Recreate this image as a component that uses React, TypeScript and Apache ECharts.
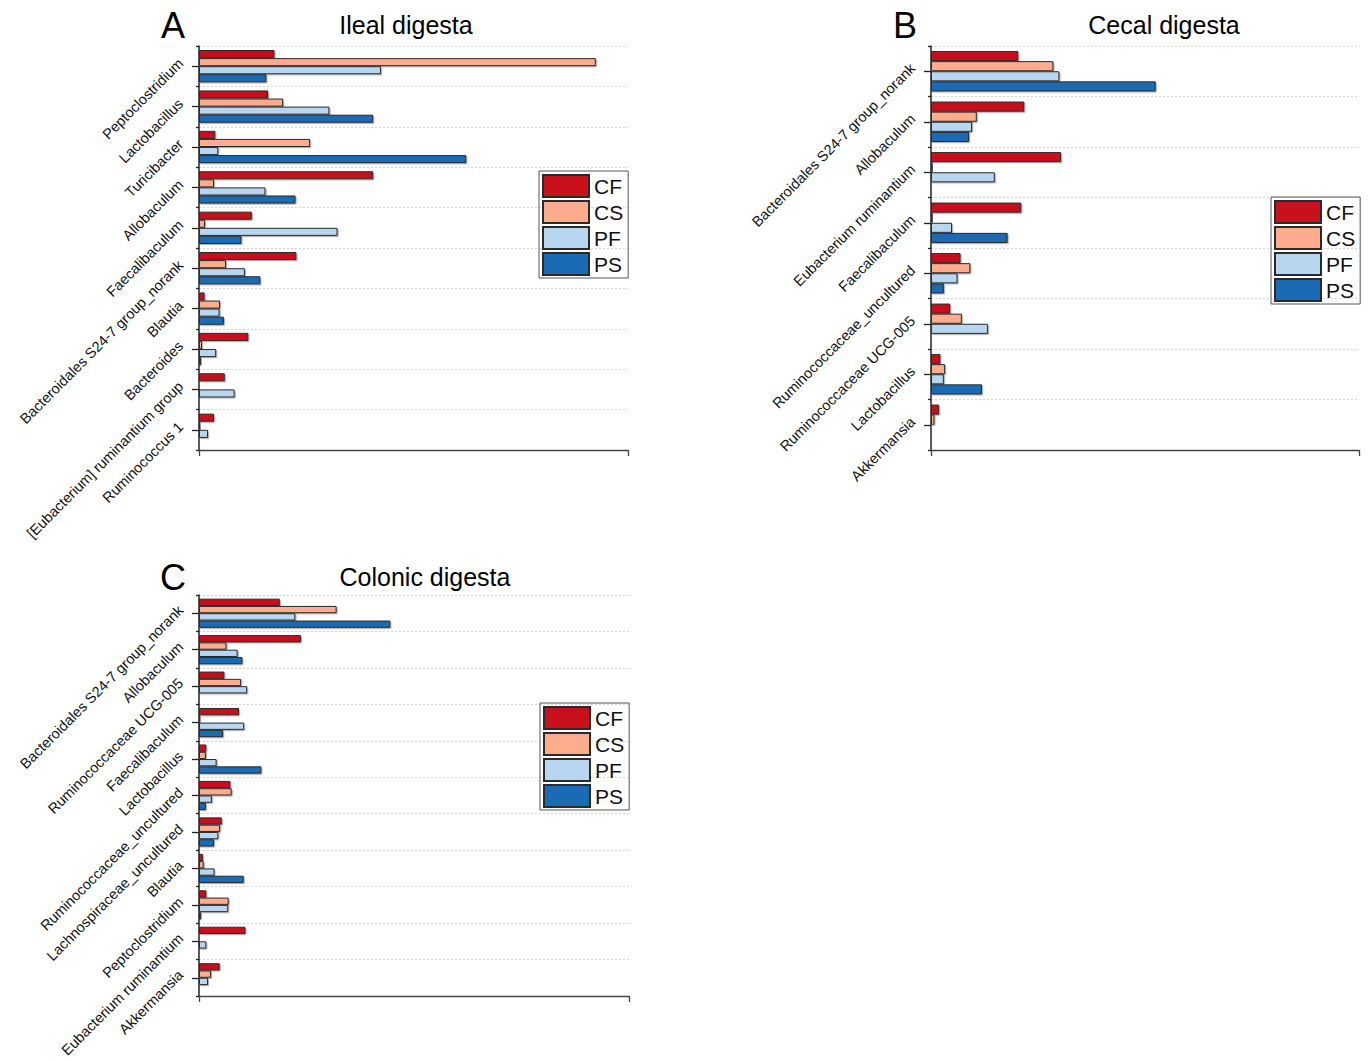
import React, { useEffect, useRef } from "react";
import * as echarts from "echarts";

const GROUPS = ["CF", "CS", "PF", "PS"];
const COLORS = ["#c8111b", "#fdac8e", "#b8d6ef", "#1a6bb4"];

// Panel A: Ileal digesta
const CATS_A = [
  "Peptoclostridium",
  "Lactobacillus",
  "Turicibacter",
  "Allobaculum",
  "Faecalibaculum",
  "Bacteroidales S24-7 group_norank",
  "Blautia",
  "Bacteroides",
  "[Eubacterium] ruminantium group",
  "Ruminococcus 1",
];
const A_CF = [17.6, 16.1, 3.8, 40.6, 12.3, 22.7, 1.3, 11.5, 6.0, 3.5];
const A_CS = [92.5, 19.6, 25.9, 3.5, 1.4, 6.3, 4.9, 0.7, 0, 0.3];
const A_PF = [42.4, 30.4, 4.5, 15.5, 32.3, 10.7, 4.8, 4.0, 8.3, 2.1];
const A_PS = [15.7, 40.6, 62.3, 22.5, 9.9, 14.3, 5.8, 0.5, 0, 0];

// Panel B: Cecal digesta
const CATS_B = [
  "Bacteroidales S24-7 group_norank",
  "Allobaculum",
  "Eubacterium ruminantium",
  "Faecalibaculum",
  "Ruminococcaceae_uncultured",
  "Ruminococcaceae UCG-005",
  "Lactobacillus",
  "Akkermansia",
];
const B_CF = [20.4, 21.8, 30.4, 21.1, 6.9, 4.5, 2.2, 1.9];
const B_CS = [28.6, 10.7, 0.4, 0.4, 9.2, 7.2, 3.3, 0.8];
const B_PF = [30.0, 9.6, 14.9, 4.9, 6.2, 13.3, 3.0, 0];
const B_PS = [52.5, 8.9, 0, 17.9, 3.0, 0, 11.9, 0];

// Panel C: Colonic digesta
const CATS_C = [
  "Bacteroidales S24-7 group_norank",
  "Allobaculum",
  "Ruminococcaceae UCG-005",
  "Faecalibaculum",
  "Lactobacillus",
  "Ruminococcaceae_uncultured",
  "Lachnospiraceae_uncultured",
  "Blautia",
  "Peptoclostridium",
  "Eubacterium ruminantium",
  "Akkermansia",
];
const C_CF = [18.8, 23.7, 5.9, 9.3, 1.7, 7.3, 5.3, 0.9, 1.7, 10.8, 4.8];
const C_CS = [32.0, 6.4, 9.8, 0.3, 1.6, 7.6, 4.9, 1.1, 6.9, 0, 2.8];
const C_PF = [22.4, 9.0, 11.2, 10.5, 4.1, 3.0, 4.5, 3.6, 6.8, 1.7, 2.1];
const C_PS = [44.5, 10.1, 0.2, 5.6, 14.5, 1.6, 3.5, 10.4, 0.5, 0, 0];

const TITLES = ["Ileal digesta", "Cecal digesta", "Colonic digesta"];
const LETTERS = ["A", "B", "C"];

const FONT = "'Liberation Sans', Arial, Helvetica, sans-serif";

export default function App() {
  const ref = useRef<HTMLDivElement>(null);

  useEffect(() => {
    if (!ref.current) return;
    const chart = echarts.init(ref.current, undefined, { renderer: "svg" });

    const panels = [
      { cats: CATS_A, vals: [A_CF, A_CS, A_PF, A_PS], grid: { left: 199, top: 46, width: 429, height: 404 }, legend: { left: 539, top: 171 }, title: [406, 25], letter: [173, 25] },
      { cats: CATS_B, vals: [B_CF, B_CS, B_PF, B_PS], grid: { left: 931, top: 46, width: 428, height: 404 }, legend: { left: 1271, top: 197 }, title: [1164, 25], letter: [905, 25] },
      { cats: CATS_C, vals: [C_CF, C_CS, C_PF, C_PS], grid: { left: 199, top: 595, width: 430, height: 401 }, legend: { left: 540, top: 703 }, title: [425, 577], letter: [173, 577] },
    ];

    const grid: any[] = [];
    const xAxis: any[] = [];
    const yAxis: any[] = [];
    const series: any[] = [];
    const legend: any[] = [];
    const graphic: any[] = [];

    panels.forEach((p, g) => {
      grid.push({ ...p.grid, containLabel: false, outerBoundsMode: "none" });
      xAxis.push({
        type: "value",
        gridIndex: g,
        position: "bottom",
        min: 0,
        max: 100,
        interval: 100,
        axisLine: { show: true, lineStyle: { color: "#444", width: 1.3 } },
        axisTick: { show: true, length: 6, lineStyle: { color: "#444", width: 1.3 } },
        axisLabel: { show: false },
        splitLine: { show: false },
      });
      yAxis.push({
        type: "category",
        gridIndex: g,
        position: "left",
        inverse: true,
        data: p.cats,
        axisLine: { show: true, lineStyle: { color: "#222", width: 1.5 } },
        axisTick: { show: true, alignWithLabel: true, length: 7, lineStyle: { color: "#222", width: 1.3 } },
        axisLabel: {
          show: true,
          interval: 0,
          rotate: 45,
          margin: 13,
          align: "right",
          verticalAlign: "bottom",
          fontSize: 14.5,
          color: "#111",
          fontFamily: FONT,
        },
        splitLine: { show: false },
      });
      yAxis.push({
        type: "category",
        gridIndex: g,
        position: "left",
        offset: 0,
        inverse: true,
        data: p.cats,
        axisLine: { show: false },
        axisTick: { show: true, alignWithLabel: false, length: 3, lineStyle: { color: "#222", width: 1.3 } },
        axisLabel: { show: false },
        splitLine: { show: true, lineStyle: { color: "#d4d4d4", type: [2, 2], width: 1 } },
      });
      GROUPS.forEach((name, s) => {
        series.push({
          type: "bar",
          name,
          xAxisIndex: g,
          yAxisIndex: g * 2,
          data: p.vals[s],
          barGap: "0%",
          barCategoryGap: "20%",
          itemStyle: {
            color: COLORS[s],
            borderColor: "#2a2a2a",
            borderWidth: 1,
            shadowColor: "rgba(0,0,0,0.3)",
            shadowOffsetX: 1.2,
            shadowOffsetY: 1.2,
            shadowBlur: 0,
          },
        });
      });
      legend.push({
        left: p.legend.left,
        top: p.legend.top,
        orient: "vertical",
        data: GROUPS,
        icon: "rect",
        itemWidth: 46,
        itemHeight: 22,
        itemGap: 2,
        padding: [3, 5, 2, 3],
        borderColor: "#555",
        borderWidth: 1,
        selectedMode: false,
        textStyle: { fontSize: 21, color: "#111", fontFamily: FONT },
      });
      graphic.push({
        type: "text",
        x: p.letter[0],
        y: p.letter[1],
        style: {
          text: LETTERS[g],
          fontSize: 36,
          fontFamily: FONT,
          fill: "#000",
          align: "center",
          verticalAlign: "middle",
          textAlign: "center",
          textVerticalAlign: "middle",
        },
      });
      graphic.push({
        type: "text",
        x: p.title[0],
        y: p.title[1],
        style: {
          text: TITLES[g],
          fontSize: 25,
          fontFamily: FONT,
          fill: "#000",
          align: "center",
          verticalAlign: "middle",
          textAlign: "center",
          textVerticalAlign: "middle",
        },
      });
    });

    chart.setOption({
      animation: false,
      backgroundColor: "#fff",
      textStyle: { fontFamily: FONT },
      grid,
      xAxis,
      yAxis,
      series,
      legend,
      graphic,
    });

    return () => chart.dispose();
  }, []);

  return (
    <div
      ref={ref}
      style={{ position: "absolute", left: 0, top: 0, width: 1370, height: 1061, background: "#fff" }}
    />
  );
}
